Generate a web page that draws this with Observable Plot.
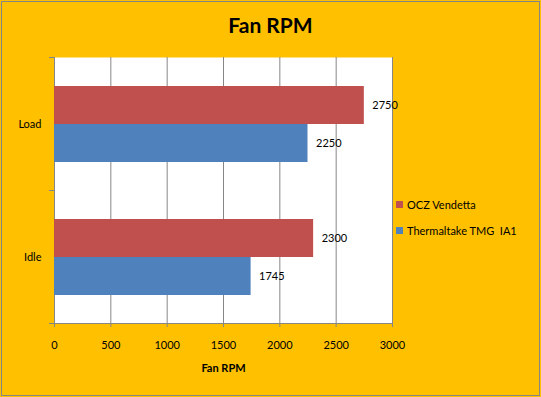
<!DOCTYPE html>
<html>
<head>
<meta charset="utf-8">
<script src="https://cdn.jsdelivr.net/npm/d3@7"></script>
<script src="https://cdn.jsdelivr.net/npm/@observablehq/plot@0.6"></script>
<style>
  html, body { margin: 0; padding: 0; background: #FFC000; }
  #chart { position: relative; width: 541px; height: 397px; background: #FFC000; font-family: Lato, "Noto Sans", sans-serif; overflow: hidden; }
  #border { position: absolute; left: 1px; top: 1px; width: 537px; height: 393px; border: 1px solid #868686; pointer-events: none; }
  #title { position: absolute; left: 0; width: 541px; top: 12px; text-align: center; font-size: 21px; font-weight: bold; color: #000; }
  #legend { position: absolute; left: 396px; top: 198px; font-size: 11px; color: #000; }
  .item { display: flex; align-items: center; height: 13px; margin-bottom: 13px; }
  .sw { width: 7px; height: 7px; margin-right: 4px; }
  svg { position: absolute; left: 0; top: 0; }
</style>
</head>
<body>
<div id="chart">
  <div id="title">Fan RPM</div>
  <div id="legend"></div>
  <div id="border"></div>
</div>
<script>
const categories = ["Load", "Idle"];
const seriesNames = ["OCZ Vendetta", "Thermaltake TMG  IA1"];
const seriesColors = ["#C0504D", "#4F81BD"];
const oczValues = [2750, 2300];
const ttValues = [2250, 1745];
const xTicks = [0, 500, 1000, 1500, 2000, 2500, 3000];

const ocz = categories.map((c, i) => ({cat: c, value: oczValues[i]}));
const tt = categories.map((c, i) => ({cat: c, value: ttValues[i]}));

const gray = "#868686";
const half = (397 - 57 - 74) / categories.length / 2;

const plot = Plot.plot({
  width: 541,
  height: 397,
  marginLeft: 54,
  marginRight: 149,
  marginTop: 57,
  marginBottom: 74,
  style: {background: "transparent", fontFamily: "Lato, 'Noto Sans', sans-serif", fontSize: "11px", color: "#000"},
  x: {domain: [0, 3000]},
  y: {domain: categories, padding: 0},
  marks: [
    Plot.frame({fill: "white", stroke: null}),
    Plot.gridX({ticks: xTicks, stroke: gray, strokeOpacity: 1}),
    Plot.barX(ocz, {y: "cat", x: "value", fill: seriesColors[0], insetTop: 29, insetBottom: 66}),
    Plot.barX(tt, {y: "cat", x: "value", fill: seriesColors[1], insetTop: 67, insetBottom: 28}),
    Plot.text(ocz, {y: "cat", x: "value", text: d => String(d.value), textAnchor: "start", dx: 8, dy: -18.5, fill: "#000"}),
    Plot.text(tt, {y: "cat", x: "value", text: d => String(d.value), textAnchor: "start", dx: 8, dy: 19.5, fill: "#000"}),
    Plot.frame({anchor: "bottom", stroke: gray, insetLeft: -5}),
    Plot.axisX({ticks: xTicks, tickSize: 4, tickPadding: 14, stroke: gray, label: null, tickFormat: d => String(d), fill: "#000"}),
    Plot.axisY({tickSize: 0, tickPadding: 13, label: null, fill: "#000"}),
    Plot.axisY({tickSize: 5, text: null, label: null, dy: -half, stroke: gray}),
    Plot.axisY({tickSize: 5, text: null, label: null, dy: half, stroke: gray}),
    Plot.text(["Fan RPM"], {text: d => d, frameAnchor: "bottom", dy: 48, fontWeight: "bold", fill: "#000"})
  ]
});
document.getElementById("chart").insertBefore(plot, document.getElementById("title"));

const legend = document.getElementById("legend");
seriesNames.forEach((name, i) => {
  const item = document.createElement("div");
  item.className = "item";
  const sw = document.createElement("div");
  sw.className = "sw";
  sw.style.background = seriesColors[i];
  const t = document.createElement("span");
  t.textContent = name;
  t.style.whiteSpace = "pre";
  item.appendChild(sw);
  item.appendChild(t);
  legend.appendChild(item);
});
</script>
</body>
</html>
